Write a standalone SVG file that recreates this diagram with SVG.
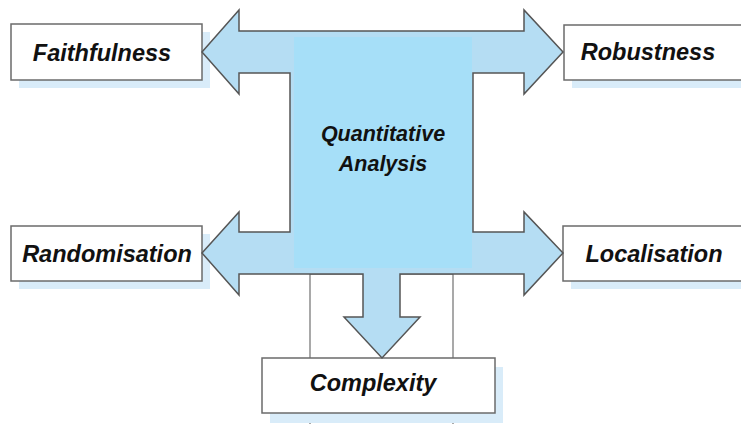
<svg xmlns="http://www.w3.org/2000/svg" width="741" height="424" viewBox="0 0 741 424">
  <style>
    .box { fill: #ffffff; stroke: #6b6b6b; stroke-width: 1.5; }
    .shadow { fill: #d9ecf9; }
    .label { font-family: "Liberation Sans", Arial, sans-serif; font-weight: bold; font-style: italic; font-size: 23.5px; fill: #111111; text-anchor: middle; }
    .core-label { font-size: 21.5px; }
    .arrow { fill: #b5ddf3; stroke: #555555; stroke-width: 1.5; stroke-linejoin: miter; }
    .frame { fill: #ffffff; stroke: #707070; stroke-width: 1.2; }
  </style>

  <rect width="741" height="424" fill="#ffffff"/>

  <!-- frame behind the lower node -->
  <rect class="frame" x="310" y="274" width="143" height="170"/>

  <g id="faithfulness">
    <rect class="shadow" x="19" y="32" width="191" height="56"/>
    <rect class="box" x="11" y="24" width="191" height="56"/>
    <text class="label" x="102" y="61">Faithfulness</text>
  </g>

  <g id="robustness">
    <rect class="shadow" x="572" y="33" width="180" height="55"/>
    <rect class="box" x="564" y="25" width="180" height="55"/>
    <text class="label" x="648" y="60">Robustness</text>
  </g>

  <g id="randomisation">
    <rect class="shadow" x="19" y="234" width="191" height="55"/>
    <rect class="box" x="11" y="226" width="191" height="55"/>
    <text class="label" x="107" y="262">Randomisation</text>
  </g>

  <g id="localisation">
    <rect class="shadow" x="571" y="234" width="180" height="55"/>
    <rect class="box" x="563" y="226" width="180" height="55"/>
    <text class="label" x="654" y="262">Localisation</text>
  </g>

  <g id="complexity">
    <rect class="shadow" x="270" y="367" width="233" height="56"/>
    <rect class="box" x="262" y="358" width="233" height="55"/>
    <text class="label" x="373" y="391">Complexity</text>
  </g>

  <g id="connectors">
    <path class="arrow" d="M202,52 L239,10 L239,31 L524,31 L524,10 L563,52 L524,94 L524,73 L473,73 L473,232 L524,232 L524,212 L563,253 L524,295 L524,274 L400,274 L400,317 L420,317 L382,358 L344,317 L363,317 L363,274 L239,274 L239,295 L202,253 L239,212 L239,232 L290,232 L290,73 L239,73 L239,94 Z"/>
  </g>

  <g id="quantitative-analysis">
    <rect x="294" y="37" width="178" height="231" fill="#a6dff8"/>
    <text class="label core-label" x="383" y="141">Quantitative</text>
    <text class="label core-label" x="383" y="171">Analysis</text>
  </g>
</svg>
